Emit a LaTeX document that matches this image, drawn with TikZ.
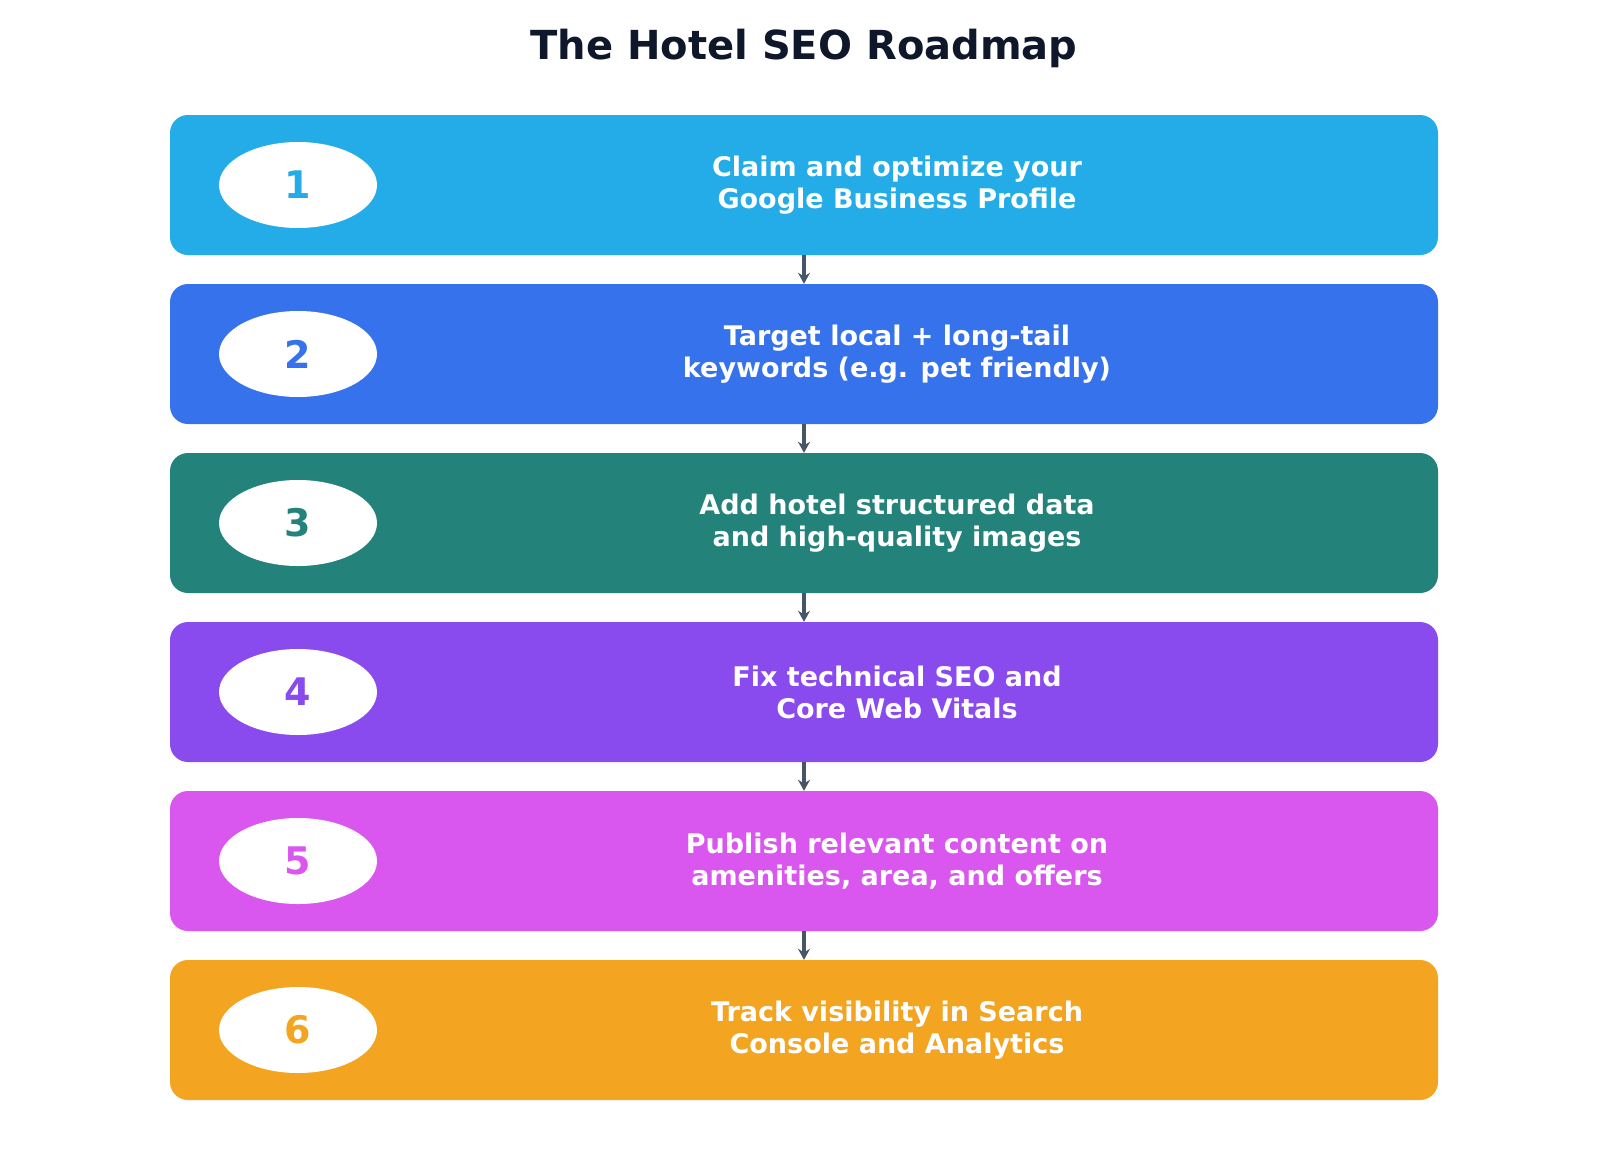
\documentclass[tikz,border=0pt]{standalone}
\usepackage{fontspec}
\setmainfont{DejaVu Sans}
\usetikzlibrary{arrows.meta,shapes.geometric}
\definecolor{c1}{HTML}{23ACE7}
\definecolor{c2}{HTML}{3672EB}
\definecolor{c3}{HTML}{23827A}
\definecolor{c4}{HTML}{8A4BEE}
\definecolor{c5}{HTML}{DA57EF}
\definecolor{c6}{HTML}{F3A521}
\definecolor{ttl}{HTML}{0F172A}
\definecolor{arr}{HTML}{475569}
\begin{document}
\begin{tikzpicture}[x=1pt,y=-1pt,
 box/.style={rectangle,rounded corners=18pt,minimum width=1268pt,minimum height=140pt,inner sep=0pt},
 num/.style={ellipse,fill=white,minimum width=158pt,minimum height=86pt,inner sep=0pt,font=\fontsize{38}{38}\selectfont\bfseries},
 lbl/.style={text=white,align=center,font=\fontsize{27}{32}\selectfont\bfseries},
 conn/.style={arr,line width=3.5pt,-{Stealth[length=11pt,width=12pt]}}]
\useasboundingbox (0,0) rectangle (1600,1156);
\node[text=ttl,font=\fontsize{40}{40}\selectfont\bfseries] (title) at (804,48) {The Hotel SEO Roadmap};
\foreach \i/\c/\t in {1/c1/{Claim and optimize your\\Google Business Profile},
 2/c2/{Target local + long-tail\\keywords (e.g. pet friendly)},
 3/c3/{Add hotel structured data\\and high-quality images},
 4/c4/{Fix technical SEO and\\Core Web Vitals},
 5/c5/{Publish relevant content on\\amenities, area, and offers},
 6/c6/{Track visibility in Search\\Console and Analytics}}{
 \pgfmathsetmacro\yy{185+169*(\i-1)}
 \node[box,fill=\c] (b\i) at (804,\yy) {};
 \node[num,text=\c] (n\i) at (298,\yy) {\i};
 \node[lbl] (t\i) at (897,\yy) {\t};
}
\foreach \i [evaluate=\i as \j using int(\i+1)] in {1,...,5}{
 \draw[conn] (b\i.south) -- (b\j.north);
}
\end{tikzpicture}
\end{document}
